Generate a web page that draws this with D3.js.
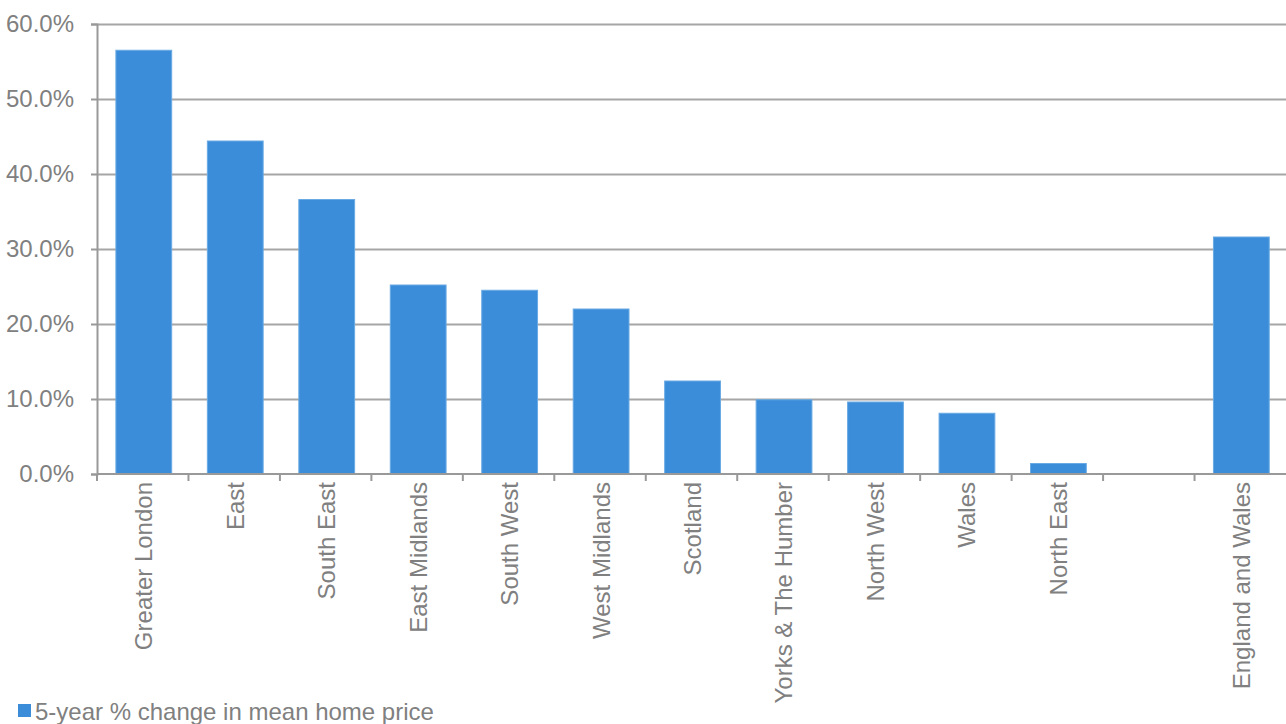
<!DOCTYPE html>
<meta charset="utf-8" />
<head>
<title>5-year % change in mean home price</title>
<script src="https://d3js.org/d3.v7.min.js"></script>
<style>
  body { margin: 0; background: #fff; }
  svg { display: block; font-family: "Liberation Sans", Arial, sans-serif; }
  .grid line { stroke: #a6a6a6; stroke-width: 2px; }
  .grid path { display: none; }
  .lbl { fill: #808080; font-size: 24px; }
</style>
</head>
<body>
<script>
// data
var regions = ["Greater London", "East", "South East", "East Midlands", "South West",
               "West Midlands", "Scotland", "Yorks & The Humber", "North West", "Wales",
               "North East", "", "England and Wales"];
var change = [56.5, 44.4, 36.6, 25.2, 24.5, 22.0, 12.4, 9.9, 9.6, 8.1, 1.4, null, 31.6];
var yTicks = [0, 10, 20, 30, 40, 50, 60];
var seriesName = "5-year % change in mean home price";

var W = 1286, H = 724;
var margin = {top: 24, right: 0, bottom: 250, left: 97};
var width = W - margin.left - margin.right,
    height = H - margin.top - margin.bottom;

var svg = d3.select("body").append("svg")
    .attr("width", W)
    .attr("height", H);

var g = svg.append("g")
    .attr("transform", "translate(" + margin.left + "," + margin.top + ")");

// slots use index so the empty gap slot is kept
var x = d3.scaleBand()
    .domain(d3.range(regions.length))
    .range([0, width])
    .paddingInner(0.39)
    .paddingOuter(0.195)
    .align(0.53);

var y = d3.scaleLinear().domain([0, 60]).range([height, 0]);

// gridlines
g.append("g")
    .attr("class", "grid")
    .call(d3.axisLeft(y).tickValues(yTicks.slice(1)).tickSize(-width).tickFormat(""));

// bars
g.selectAll(".bar")
    .data(change.map(function(v, i) { return {i: i, v: v}; }).filter(function(d) { return d.v != null; }))
  .enter().append("rect")
    .attr("class", "bar")
    .attr("x", function(d) { return x(d.i); })
    .attr("width", x.bandwidth())
    .attr("y", function(d) { return y(d.v); })
    .attr("height", function(d) { return y(0) - y(d.v); })
    .attr("fill", "#3b8dd9")
    .attr("stroke", "#6aaae4")
    .attr("stroke-width", 1);

// y axis
var yAxis = g.append("g")
    .call(d3.axisLeft(y).tickValues(yTicks).tickSize(6).tickPadding(17)
      .tickFormat(function(d) { return d.toFixed(1) + "%"; }));
yAxis.select(".domain").attr("stroke", "#999").attr("stroke-width", 2);
yAxis.selectAll(".tick line").attr("stroke", "#999").attr("stroke-width", 2);
yAxis.selectAll("text").attr("class", "lbl").attr("fill", "#808080")
    .style("font-family", "'Liberation Sans', Arial, sans-serif");

// x axis baseline and slot-boundary ticks
g.append("line")
    .attr("x1", 0).attr("x2", width)
    .attr("y1", y(0)).attr("y2", y(0))
    .attr("stroke", "#999").attr("stroke-width", 2);

g.selectAll(".xtick")
    .data(d3.range(regions.length))
  .enter().append("line")
    .attr("x1", function(i) { return i * x.step(); })
    .attr("x2", function(i) { return i * x.step(); })
    .attr("y1", y(0)).attr("y2", y(0) + 7)
    .attr("stroke", "#999").attr("stroke-width", 2);

// rotated category labels
g.selectAll(".xlab")
    .data(regions)
  .enter().append("text")
    .attr("class", "lbl")
    .attr("text-anchor", "end")
    .attr("transform", function(d, i) {
      return "translate(" + (x(i) + x.bandwidth() / 2) + "," + (y(0) + 8) + ")rotate(-90)";
    })
    .attr("dy", "0.35em")
    .text(function(d) { return d; });

// legend
svg.append("rect")
    .attr("x", 18).attr("y", 704)
    .attr("width", 13).attr("height", 13)
    .attr("fill", "#3b8dd9");
svg.append("text")
    .attr("class", "lbl")
    .attr("x", 35).attr("y", 720)
    .text(seriesName);
</script>
</body>
